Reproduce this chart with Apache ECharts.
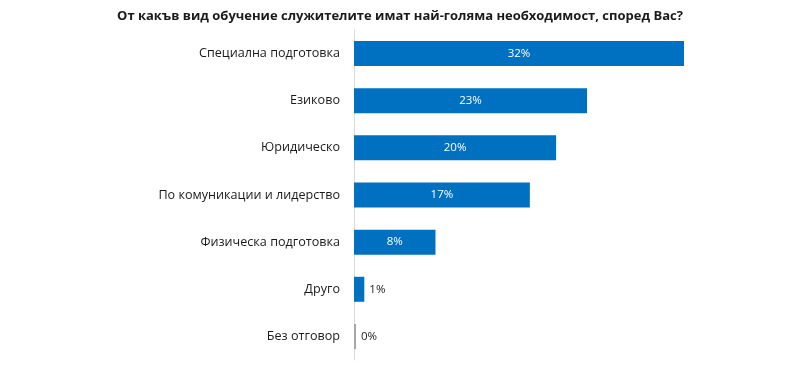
<!DOCTYPE html>
<html>
<head>
<meta charset="utf-8">
<script src="https://cdn.jsdelivr.net/npm/echarts@6/dist/echarts.min.js"></script>
<style>html,body{margin:0;padding:0;background:#fff;}#c{width:800px;height:373px;}</style>
</head>
<body>
<div id="c"></div>
<script>
const titleText = 'От какъв вид обучение служителите имат най-голяма необходимост, според Вас?';
const categories = ['Специална подготовка', 'Езиково', 'Юридическо', 'По комуникации и лидерство', 'Физическа подготовка', 'Друго', 'Без отговор'];
const values = [32, 22.6, 19.6, 17.05, 7.9, 1, 0];
const labels = ['32%', '23%', '20%', '17%', '8%', '1%', '0%'];

const chart = echarts.init(document.getElementById('c'), null, {renderer: 'canvas'});
const font = 'Open Sans';
chart.setOption({
  animation: false,
  title: {
    text: titleText, left: 'center', top: 5,
    textStyle: {fontFamily: font, fontSize: 13, fontWeight: 'bold', color: '#1a1a1a'}
  },
  grid: {left: 354, right: 116, top: 30, bottom: 13, containLabel: false},
  xAxis: {
    type: 'value', min: 0, max: 32, show: false
  },
  yAxis: {
    type: 'category', data: categories, inverse: true,
    axisLine: {show: true, lineStyle: {color: '#d9d9d9', width: 1}},
    axisTick: {show: false},
    axisLabel: {fontFamily: font, fontSize: 12.6, color: '#1a1a1a', margin: 14}
  },
  series: [{
    type: 'bar', barWidth: 25, barMinHeight: 2,
    data: values.map((v, i) => ({
      value: v,
      itemStyle: {color: v === 0 ? '#a6a6a6' : '#0070c0'},
      label: v < 2 ? {position: 'right', color: '#1a1a1a', distance: 5} : {position: 'inside', color: '#ffffff'}
    })),
    label: {
      show: true, fontFamily: font, fontSize: 11.5,
      formatter: p => labels[p.dataIndex]
    }
  }]
});
</script>
</body>
</html>
